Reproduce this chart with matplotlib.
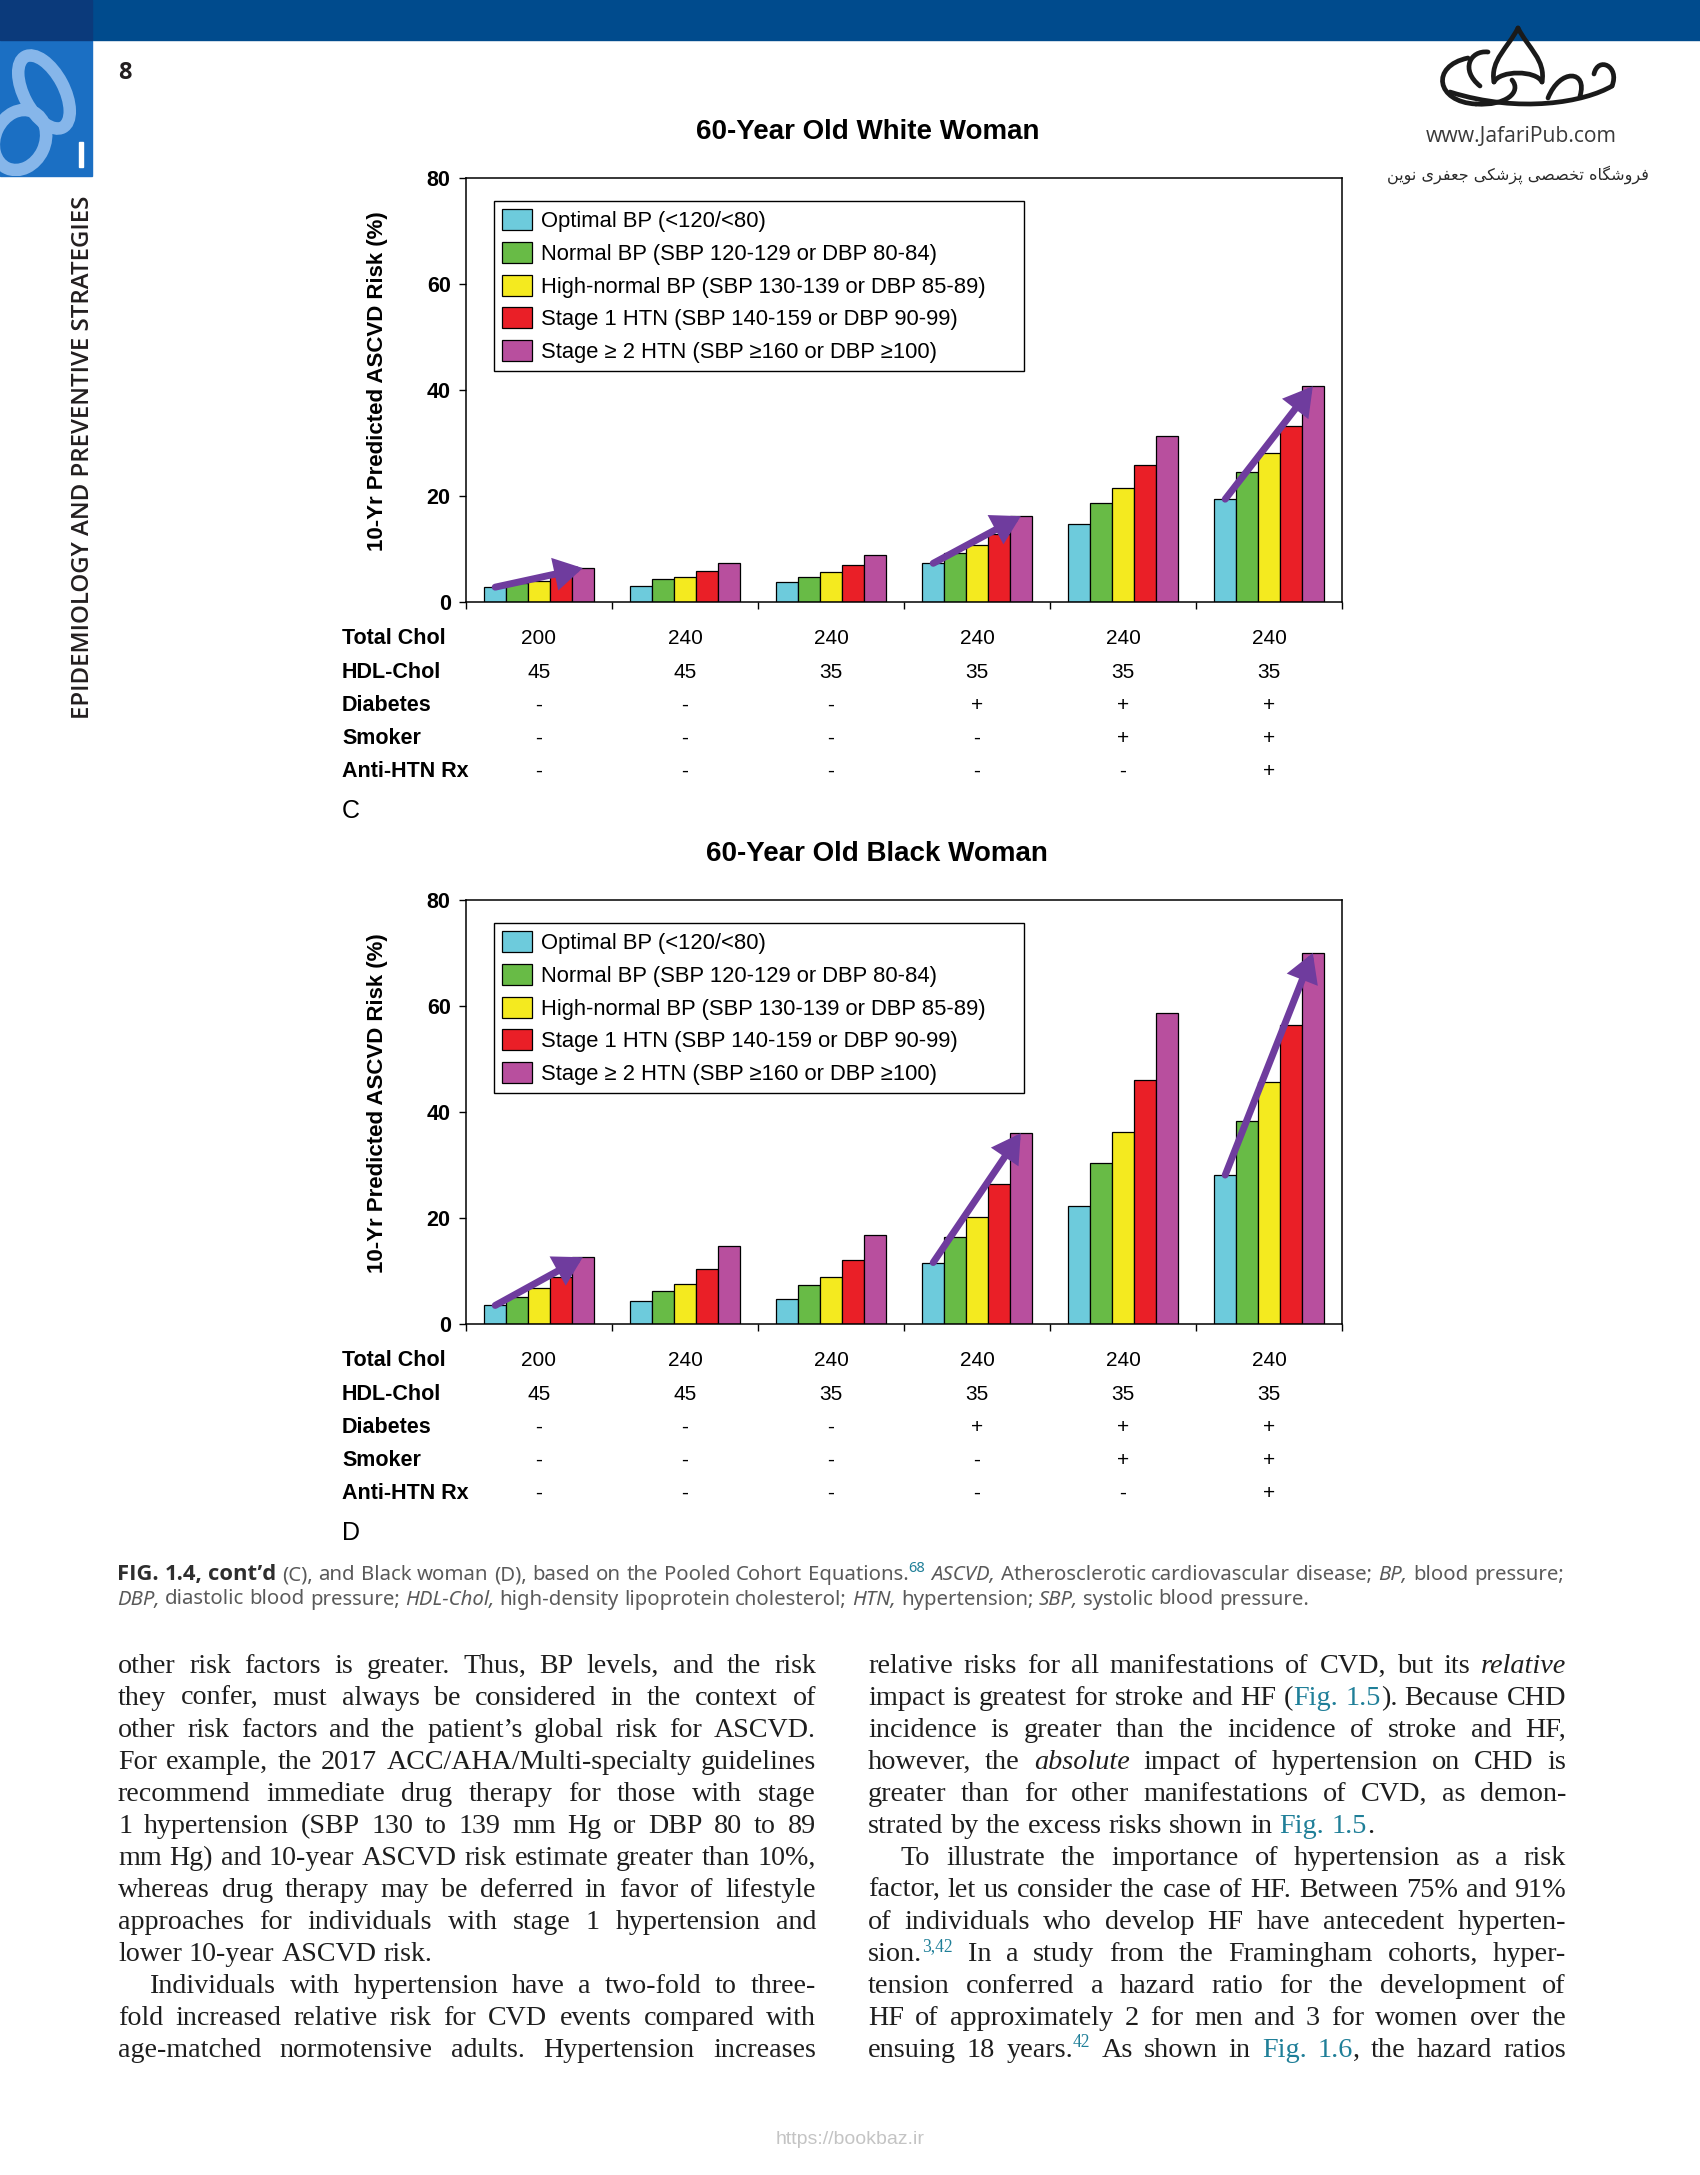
import re
import numpy as np
import matplotlib
matplotlib.use('Agg')
import matplotlib.pyplot as plt
from matplotlib import transforms
from matplotlib.patches import Patch, Rectangle, Ellipse, FancyArrowPatch, PathPatch
from matplotlib.path import Path

plt.rcParams['font.family'] = ['Liberation Sans', 'DejaVu Sans']

# ---- chart data ----
bp_labels = ['Optimal BP (<120/<80)',
             'Normal BP (SBP 120-129 or DBP 80-84)',
             'High-normal BP (SBP 130-139 or DBP 85-89)',
             'Stage 1 HTN (SBP 140-159 or DBP 90-99)',
             'Stage \u2265 2 HTN (SBP \u2265160 or DBP \u2265100)']
bp_colors = ['#6dcbdc', '#68bb46', '#f4ea1f', '#ea1f27', '#b84f9e']

white_optimal = [2.8, 3.1, 3.7, 7.3, 14.8, 19.4]
white_normal = [3.5, 4.3, 4.8, 9.2, 18.6, 24.5]
white_high_normal = [4.0, 4.8, 5.6, 10.7, 21.5, 28.1]
white_stage1 = [5.0, 5.8, 6.9, 12.8, 25.8, 33.3]
white_stage2 = [6.4, 7.3, 8.8, 16.2, 31.4, 40.7]

black_optimal = [3.5, 4.3, 4.8, 11.6, 22.2, 28.1]
black_normal = [5.1, 6.2, 7.3, 16.4, 30.3, 38.3]
black_high_normal = [6.7, 7.5, 8.8, 20.2, 36.2, 45.6]
black_stage1 = [8.8, 10.3, 12.0, 26.4, 46.0, 56.4]
black_stage2 = [12.6, 14.7, 16.7, 36.0, 58.6, 70.0]

row_labels = ['Total Chol', 'HDL-Chol', 'Diabetes', 'Smoker', 'Anti-HTN Rx']
total_chol = ['200', '240', '240', '240', '240', '240']
hdl_chol = ['45', '45', '35', '35', '35', '35']
diabetes = ['-', '-', '-', '+', '+', '+']
smoker = ['-', '-', '-', '-', '+', '+']
anti_htn = ['-', '-', '-', '-', '-', '+']

arrow_groups = [0, 3, 5]
y_ticks = [0, 20, 40, 60, 80]

# ---- page text ----  ( > indent, trailing < = last line of paragraph )
left_column = [
    "other risk factors is greater. Thus, BP levels, and the risk",
    "they confer, must always be considered in the context of",
    "other risk factors and the patient\u2019s global risk for ASCVD.",
    "For example, the 2017 ACC/AHA/Multi-specialty guidelines",
    "recommend immediate drug therapy for those with stage",
    "1 hypertension (SBP 130 to 139 mm Hg or DBP 80 to 89",
    "mm Hg) and 10-year ASCVD risk estimate greater than 10%,",
    "whereas drug therapy may be deferred in favor of lifestyle",
    "approaches for individuals with stage 1 hypertension and",
    "lower 10-year ASCVD risk.<",
    ">Individuals with hypertension have a two-fold to three-",
    "fold increased relative risk for CVD events compared with",
    "age-matched normotensive adults. Hypertension increases",
]
right_column = [
    "relative risks for all manifestations of CVD, but its *relative*",
    "impact is greatest for stroke and HF ([Fig. 1.5]). Because CHD",
    "incidence is greater than the incidence of stroke and HF,",
    "however, the *absolute* impact of hypertension on CHD is",
    "greater than for other manifestations of CVD, as demon-",
    "strated by the excess risks shown in [Fig. 1.5].<",
    ">To illustrate the importance of hypertension as a risk",
    "factor, let us consider the case of HF. Between 75% and 91%",
    "of individuals who develop HF have antecedent hyperten-",
    "sion.^3,42 In a study from the Framingham cohorts, hyper-",
    "tension conferred a hazard ratio for the development of",
    "HF of approximately 2 for men and 3 for women over the",
    "ensuing 18 years.^42 As shown in [Fig. 1.6], the hazard ratios",
]
caption_lines = [
    "{FIG. 1.4, cont\u2019d} (C), and Black woman (D), based on the Pooled Cohort Equations.^68 "
    "*ASCVD,* Atherosclerotic cardiovascular disease; *BP,* blood pressure;",
    "*DBP,* diastolic blood pressure; *HDL-Chol,* high-density lipoprotein cholesterol; "
    "*HTN,* hypertension; *SBP,* systolic blood pressure.<",
]
# Persian shop line, written in presentation forms (visual order)
shop_line = ('\uFEE6\uFBFE\uFEEE\uFEE7 \uFBFC\uFEAE\uFED4\uFECC\uFE9F '
             '\uFBFD\uFB91\uFEB7\uFEB0\uFB58 \uFBFD\uFEBC\uFEBC\uFEA8\uFE97 '
             '\uFEE9\uFE8E\uFB95\uFEB7\uFEED\uFEAE\uFED3')

W, H = 1700, 2175
fig = plt.figure(figsize=(W / 100, H / 100), dpi=100)
bg = fig.add_axes([0, 0, 1, 1], zorder=0)
bg.set_xlim(0, W)
bg.set_ylim(H, 0)
bg.axis('off')
renderer = fig.canvas.get_renderer()


def measure(t):
    return t.get_window_extent(renderer).width


def fit(t, target):
    t.set_fontsize(t.get_fontsize() * target / measure(t))


# ---- header ----
bg.add_patch(Rectangle((0, 0), W, 40, color='#004b8d', zorder=1))
bg.add_patch(Rectangle((0, 0), 92, 40, color='#0b3a7b', zorder=2))
box = Rectangle((0, 40), 92, 136, color='#1b6fc3', zorder=1)
bg.add_patch(box)
for cx, cy, w, h, ang in [(44, 92, 40, 80, -28), (20, 140, 50, 62, 25)]:
    e = Ellipse((cx, cy), w, h, angle=ang, fill=False, ec='#86b6ea', lw=9, zorder=2)
    bg.add_patch(e)
    e.set_clip_path(box)
bg.add_patch(Rectangle((79, 142), 4, 25, color='white', zorder=3))
bg.text(125, 73, '8', fontsize=17, fontweight='bold', family='Open Sans',
        color='#231f20', ha='center', va='center')

side = bg.text(83, 457, 'EPIDEMIOLOGY AND PREVENTIVE STRATEGIES', family='Open Sans',
               fontsize=16, fontweight='semibold', color='#231f20', ha='center', va='center')
fit(side, 527)
side.set_rotation(90)

# logo strokes (top right)
logo = [
    [(1518, 28), (1508, 48), (1490, 60), (1494, 82)],
    [(1518, 28), (1528, 48), (1546, 60), (1542, 82)],
    [(1494, 82), (1500, 70), (1536, 70), (1542, 82)],
    [(1468, 58), (1430, 66), (1436, 102), (1476, 104)],
    [(1476, 104), (1506, 106), (1522, 92), (1512, 80)],
    [(1450, 92), (1520, 114), (1585, 102), (1612, 86)],
    [(1612, 86), (1620, 66), (1598, 56), (1594, 74)],
    [(1548, 98), (1560, 68), (1588, 70), (1580, 96)],
    [(1480, 86), (1460, 70), (1470, 50), (1488, 52)],
]
for pts in logo:
    p = Path(pts, [Path.MOVETO, Path.CURVE4, Path.CURVE4, Path.CURVE4])
    bg.add_patch(PathPatch(p, fill=False, ec='#1a1a1a', lw=3.4, capstyle='round', zorder=3))
url = bg.text(1521, 136, 'www.JafariPub.com', family='Open Sans', fontsize=14,
              color='#3a3a3a', ha='center', va='center')
fit(url, 192)
shop = bg.text(1518, 175, shop_line, family='DejaVu Sans', fontsize=11,
               color='#2a2a2a', ha='center', va='center')
fit(shop, 261)

bg.text(850, 2140, 'https://bookbaz.ir', fontsize=14, color='#c4c4c4',
        ha='center', va='center')

# ---- charts ----
bar_w = 0.15


def draw_panel(top, title, title_x, series, panel_label):
    ax = fig.add_axes([466 / W, 1 - (top + 424) / H, 876 / W, 424 / H], zorder=2)
    xs = np.arange(len(total_chol))
    for k, (vals, col) in enumerate(zip(series, bp_colors)):
        ax.bar(xs + (k - 2) * bar_w, vals, width=bar_w, color=col,
               edgecolor='black', linewidth=0.9, zorder=2)
    ax.set_xlim(-0.5, len(xs) - 0.5)
    ax.set_ylim(0, 80)
    ax.set_yticks(y_ticks)
    ax.set_xticks(np.arange(-0.5, len(xs), 1))
    ax.set_xticklabels([])
    ax.tick_params(direction='out', length=5, width=1, pad=6, labelsize=15.5)
    for lbl in ax.get_yticklabels():
        lbl.set_fontweight('bold')
    for sp in ax.spines.values():
        sp.set_linewidth(1.1)

    for g in arrow_groups:
        ax.add_patch(FancyArrowPatch((g - 2 * bar_w, series[0][g]), (g + 2 * bar_w, series[4][g]),
                                     arrowstyle='-|>,head_length=0.55,head_width=0.32',
                                     mutation_scale=24, lw=5, color='#6f3c9e',
                                     shrinkA=0, shrinkB=0, joinstyle='miter', zorder=4))

    handles = [Patch(facecolor=c, edgecolor='black', linewidth=0.9) for c in bp_colors]
    leg = ax.legend(handles, bp_labels, loc='upper left', mode='expand',
                    bbox_to_anchor=(0.032, 0.55, 0.605, 0.3946), fontsize=15.8,
                    handlelength=1.35, handleheight=1.1, handletextpad=0.42,
                    labelspacing=0.44, borderpad=0.36, borderaxespad=0,
                    fancybox=False, framealpha=1)
    leg.get_frame().set_edgecolor('black')
    leg.get_frame().set_linewidth(1.0)

    bg.text(title_x, top - 46, title, fontsize=20, fontweight='bold',
            ha='center', va='center')
    bg.text(378, top + 203, '10-Yr Predicted ASCVD Risk (%)', fontsize=16,
            fontweight='bold', rotation=90, ha='center', va='center')

    tr = transforms.blended_transform_factory(ax.transData, bg.transData)
    rows = [total_chol, hdl_chol, diabetes, smoker, anti_htn]
    for r, (lab, vals) in enumerate(zip(row_labels, rows)):
        y = top + 461 + r * 33.1
        bg.text(342, y, lab, fontsize=15.5, fontweight='bold', ha='left', va='center')
        for i, v in enumerate(vals):
            ax.text(i, y, v, transform=tr, fontsize=15, ha='center', va='center')
    bg.text(342, top + 633, panel_label, fontsize=18, ha='left', va='center')


draw_panel(178, '60-Year Old White Woman', 868,
           [white_optimal, white_normal, white_high_normal, white_stage1, white_stage2], 'C')
draw_panel(900, '60-Year Old Black Woman', 877,
           [black_optimal, black_normal, black_high_normal, black_stage1, black_stage2], 'D')

# ---- justified text blocks ----
PAT = re.compile(r'\{(.+?)\}|\*(.+?)\*|\[(.+?)\]|\^(\S+)|([^{*\[\^]+)')


def split_words(line):
    words = [[]]
    for m in PAT.finditer(line):
        style, grp = [(s, g) for s, g in zip('bilsn', m.groups()) if g is not None][0]
        for j, part in enumerate(grp.split(' ')):
            if j > 0:
                words.append([])
            if part:
                words[-1].append((part, style))
    return [w for w in words if w]


def build(lines, y0, step, styles, scale):
    probe = [bg.text(0, 0, s, **styles['n']) for s in ('a a', 'aa')]
    for p in probe:
        p.set_fontsize(p.get_fontsize() * scale)
    space = measure(probe[0]) - measure(probe[1])
    for p in probe:
        p.remove()
    out = []
    for n, line in enumerate(lines):
        justify = not line.endswith('<')
        line = line.rstrip('<')
        indent = line.startswith('>')
        line = line.lstrip('>')
        y = y0 + n * step
        placed = []
        for word in split_words(line):
            row = []
            for text, st in word:
                kw = dict(styles[st])
                rise = kw.pop('rise', 0) * scale
                kw['fontsize'] = kw['fontsize'] * scale
                t = bg.text(0, y - rise, text, ha='left', va='baseline', **kw)
                row.append((t, measure(t)))
            placed.append(row)
        out.append((placed, justify, indent))
    return out, space


def set_block(lines, x0, width, y0, step, styles, indent_w):
    # first pass: find the size at which the tightest justified line fits
    out, space = build(lines, y0, step, styles, 1.0)
    scale = 10.0
    for placed, justify, indent in out:
        total = sum(w for row in placed for _, w in row) + space * (len(placed) - 1)
        if justify:
            scale = min(scale, (width - indent_w * indent) / total)
        for row in placed:
            for t, _ in row:
                t.remove()
    out, space = build(lines, y0, step, styles, scale * 0.995)
    for placed, justify, indent in out:
        left = x0 + indent_w * indent
        total = sum(w for row in placed for _, w in row)
        gap = (x0 + width - left - total) / (len(placed) - 1) if justify else space
        x = left
        for row in placed:
            for t, w in row:
                t.set_x(x)
                x += w
            x += gap


serif = dict(family='Liberation Serif', fontsize=18.5, color='#1e1e1e')
teal = '#1f7f98'
body_styles = {
    'n': serif,
    'i': dict(serif, style='italic'),
    'l': dict(serif, color=teal),
    'b': dict(serif, fontweight='bold'),
    's': dict(serif, fontsize=11.5, color=teal, rise=9),
}
set_block(left_column, 118, 698, 1673, 32.0, body_styles, 32)
set_block(right_column, 868, 698, 1673, 32.0, body_styles, 33)

cap = dict(family='Noto Sans', fontsize=12.5, color='#5a5a5a')
cap_styles = {
    'n': cap,
    'i': dict(cap, style='italic'),
    'l': dict(cap, color=teal),
    'b': dict(cap, family='Open Sans', fontsize=13.5, fontweight='bold', color='#2e2e2e'),
    's': dict(cap, fontsize=9, color=teal, rise=7),
}
set_block(caption_lines, 117, 1447, 1580, 24.5, cap_styles, 0)

fig.savefig('out.png', dpi=100)
